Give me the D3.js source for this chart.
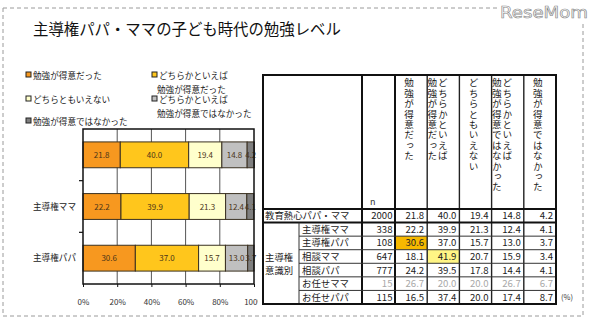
<!DOCTYPE html>
<html>
<head>
<meta charset="utf-8">
<script src="https://cdn.jsdelivr.net/npm/d3@7"></script>
<style>
  body { margin: 0; background: #fff; }
  svg { display: block; }
  text { font-family: "Noto Sans CJK JP", "Noto Sans", sans-serif; }
</style>
</head>
<body>
<script>
// ---- data ----
const title = "主導権パパ・ママの子ども時代の勉強レベル";
const seriesKeys = ["good", "ratherGood", "neutral", "ratherNot", "notGood"];
const seriesNames = [
  "勉強が得意だった",
  "どちらかといえば勉強が得意だった",
  "どちらともいえない",
  "どちらかといえば勉強が得意ではなかった",
  "勉強が得意ではなかった"
];
// header text for the table, one array entry per vertical line (right line first)
const headerLines = [
  ["勉強が得意だった"],
  ["どちらかといえば", "勉強が得意だった"],
  ["どちらともいえない"],
  ["どちらかといえば", "勉強が得意ではなかった"],
  ["勉強が得意ではなかった"]
];
const rowLabels = ["教育熱心パパ・ママ", "主導権ママ", "主導権パパ", "相談ママ", "相談パパ", "お任せママ", "お任せパパ"];
const groupLabel = ["主導権", "意識別"];
const rowN = [2000, 338, 108, 647, 777, 15, 115];
const good       = [21.8, 22.2, 30.6, 18.1, 24.2, 26.7, 16.5];
const ratherGood = [40.0, 39.9, 37.0, 41.9, 39.5, 20.0, 37.4];
const neutral    = [19.4, 21.3, 15.7, 20.7, 17.8, 20.0, 20.0];
const ratherNot  = [14.8, 12.4, 13.0, 15.9, 14.4, 26.7, 17.4];
const notGood    = [4.2, 4.1, 3.7, 3.4, 4.1, 6.7, 8.7];
const barLabels = ["", "主導権ママ", "主導権パパ"];   // first three table rows are charted
const tickValues = [0, 20, 40, 60, 80, 100];
const tickLabels = ["0%", "20%", "40%", "60%", "80%", "100%"];

const seriesValues = [good, ratherGood, neutral, ratherNot, notGood];
const colors = ["#f7981f", "#ffc61c", "#ffffcc", "#c0c0c0", "#7f7f7f"];

const W = 589, H = 330;
const svg = d3.select("body").append("svg").attr("width", W).attr("height", H);

// ---- frame ----
const dash = { stroke: "#9a9a9a", "stroke-width": 1, "stroke-dasharray": "4,3", fill: "none" };
function line(g, x1, y1, x2, y2, attrs) {
  const l = g.append("line").attr("x1", x1).attr("y1", y1).attr("x2", x2).attr("y2", y2);
  Object.entries(attrs).forEach(([k, v]) => l.attr(k, v));
  return l;
}
line(svg, 3, 8, 497, 8, dash);
line(svg, 3, 8, 3, 316, dash);
line(svg, 3, 316, 583, 316, dash);
line(svg, 583, 24, 583, 316, dash);

svg.append("text").attr("x", 500).attr("y", 18)
  .attr("font-size", 15).attr("textLength", 88).attr("lengthAdjust", "spacingAndGlyphs")
  .attr("fill", "#fff").attr("stroke", "#8a8a8a").attr("stroke-width", 0.6)
  .style("font-family", "'DejaVu Sans', sans-serif")
  .text("ReseMom");

svg.append("text").attr("x", 33).attr("y", 35)
  .attr("font-size", 15.4).attr("fill", "#111").text(title);

// ---- legend ----
const legendPos = [
  { x: 26, y: 76 }, { x: 152, y: 76 }, { x: 26, y: 100 }, { x: 152, y: 100 }, { x: 26, y: 122 }
];
const legendText = [
  ["勉強が得意だった"],
  ["どちらかといえば", "勉強が得意だった"],
  ["どちらともいえない"],
  ["どちらかといえば", "勉強が得意ではなかった"],
  ["勉強が得意ではなかった"]
];
const lg = svg.append("g");
seriesNames.forEach((name, i) => {
  const p = legendPos[i];
  lg.append("rect").attr("x", p.x).attr("y", p.y - 4).attr("width", 5).attr("height", 5)
    .attr("fill", colors[i]).attr("stroke", "#222").attr("stroke-width", 1);
  const t = lg.append("text").attr("x", p.x + 7).attr("y", p.y + 3)
    .attr("font-size", 8.6).attr("fill", "#222");
  legendText[i].forEach((s, k) => {
    t.append("tspan").attr("x", p.x + (k === 0 ? 7 : 5)).attr("dy", k === 0 ? 0 : 13.5).text(s);
  });
});

// ---- stacked bar chart ----
const plot = { left: 83, right: 254, top: 129, bottom: 284 };
const barRows = rowLabels.slice(0, 3);
const barData = barRows.map((r, i) => {
  const o = { row: r };
  seriesKeys.forEach((k, j) => o[k] = seriesValues[j][i]);
  return o;
});
const stacked = d3.stack().keys(seriesKeys)(barData);

const x = d3.scaleLinear().domain([0, 100]).range([plot.left, plot.right]);
const y = d3.scaleBand().domain(barRows).range([plot.top, plot.bottom])
  .paddingInner(0.5).paddingOuter(0.25);

const chart = svg.append("g");
chart.append("rect").attr("x", plot.left).attr("y", plot.top)
  .attr("width", plot.right - plot.left).attr("height", plot.bottom - plot.top).attr("fill", "#fff");

// vertical gridlines
chart.selectAll("line.grid").data(tickValues.slice(1, -1)).join("line")
  .attr("class", "grid")
  .attr("x1", d => x(d)).attr("x2", d => x(d))
  .attr("y1", plot.top).attr("y2", plot.bottom)
  .attr("stroke", "#555").attr("stroke-width", 1);

// bars
chart.selectAll("g.series").data(stacked).join("g")
  .attr("class", "series")
  .attr("fill", (d, i) => colors[i])
  .selectAll("rect").data(d => d).join("rect")
  .attr("x", d => x(d[0])).attr("width", d => x(d[1]) - x(d[0]))
  .attr("y", d => y(d.data.row)).attr("height", y.bandwidth())
  .attr("stroke", "#3a3020").attr("stroke-width", 1);

// segment value labels
stacked.forEach(s => {
  chart.append("g").selectAll("text").data(s).join("text")
    .attr("x", d => (x(d[0]) + x(d[1])) / 2)
    .attr("y", d => y(d.data.row) + y.bandwidth() / 2 + 3)
    .attr("text-anchor", "middle").attr("font-size", 8).attr("fill", "#4a3418")
    .text(d => d.data[s.key].toFixed(1));
});

// plot border
chart.append("rect").attr("x", plot.left).attr("y", plot.top)
  .attr("width", plot.right - plot.left).attr("height", plot.bottom - plot.top)
  .attr("fill", "none").attr("stroke", "#111").attr("stroke-width", 1.5);

// left ticks at category boundaries
const bounds = barRows.slice(1).map((r, i) => (y(barRows[i]) + y.bandwidth() + y(r)) / 2);
chart.selectAll("line.ytick").data(bounds).join("line")
  .attr("x1", plot.left - 4).attr("x2", plot.left)
  .attr("y1", d => d).attr("y2", d => d)
  .attr("stroke", "#111").attr("stroke-width", 1.2);

// category labels
chart.selectAll("text.ylab").data(barRows).join("text")
  .attr("x", 76).attr("y", d => y(d) + y.bandwidth() / 2 + 3)
  .attr("text-anchor", "end").attr("font-size", 8.6).attr("fill", "#222")
  .text((d, i) => barLabels[i]);

// x axis
svg.append("clipPath").attr("id", "axclip").append("rect")
  .attr("x", 0).attr("y", 0).attr("width", 258).attr("height", H);
const xAxis = d3.axisBottom(x).tickValues(tickValues)
  .tickFormat((d, i) => tickLabels[i]).tickSize(3).tickPadding(12);
const ax = svg.append("g").attr("transform", `translate(0,${plot.bottom})`)
  .attr("clip-path", "url(#axclip)").call(xAxis);
ax.select(".domain").remove();
ax.selectAll(".tick line").attr("stroke", "#111");
ax.selectAll(".tick text").attr("font-size", 8).attr("fill", "#333")
  .style("font-family", "'Noto Sans CJK JP', sans-serif");

// ---- table ----
const tb = { left: 263, labelRight: 362, nRight: 395, right: 556, top: 75, headBottom: 209, bottom: 304, groupRight: 299 };
const rowY = d3.scaleBand().domain(rowLabels).range([tb.headBottom, tb.bottom]);
const colX = d3.scaleBand().domain(seriesKeys).range([tb.nRight, tb.right]);
const table = svg.append("g");

// highlighted cells
const highlights = [
  { row: "主導権パパ", key: "good", fill: "#f6b800" },
  { row: "相談ママ", key: "ratherGood", fill: "#fff585" }
];
table.selectAll("rect.hl").data(highlights).join("rect")
  .attr("x", d => colX(d.key)).attr("y", d => rowY(d.row))
  .attr("width", colX.bandwidth()).attr("height", rowY.bandwidth())
  .attr("fill", d => d.fill);

// vertical header text (tategaki)
headerLines.forEach((lines, i) => {
  const cx = colX(seriesKeys[i]) + colX.bandwidth() / 2;
  const offs = lines.length === 1 ? [-2] : [-0.5, -11];
  lines.forEach((s, k) => {
    table.append("text")
      .attr("x", cx + offs[k]).attr("y", tb.top + 3)
      .attr("font-size", 9.6).attr("fill", "#222")
      .style("writing-mode", "vertical-rl").style("letter-spacing", "0.8px")
      .text(s);
  });
});
table.append("text").attr("x", 370).attr("y", 205).attr("font-size", 9).attr("fill", "#333").text("n");

// row labels
const lab = (t, xx, yy, col) => table.append("text").attr("x", xx).attr("y", yy)
  .attr("font-size", 9.4).attr("fill", col || "#222").text(t);
rowLabels.forEach((r, i) => {
  lab(r, i === 0 ? 265 : 302, rowY(r) + rowY.bandwidth() / 2 + 3.5);
});
const gMid = (rowY(rowLabels[1]) + tb.bottom) / 2;
lab(groupLabel[0], 265, gMid - 2.5);
lab(groupLabel[1], 265, gMid + 10.5);

// numbers
const numCol = i => (rowN[i] < 30 ? "#a8a8a8" : "#222");
rowLabels.forEach((r, i) => {
  const yy = rowY(r) + rowY.bandwidth() / 2 + 3.5;
  table.append("text").attr("x", tb.nRight - 2.5).attr("y", yy)
    .attr("text-anchor", "end").attr("font-size", 9.6).attr("fill", numCol(i)).text(rowN[i]);
  seriesKeys.forEach((k, j) => {
    table.append("text").attr("x", colX(k) + colX.bandwidth() - 3).attr("y", yy)
      .attr("text-anchor", "end").attr("font-size", 9.6).attr("fill", numCol(i))
      .text(seriesValues[j][i].toFixed(1));
  });
});

// grid lines
const thick = { stroke: "#111", "stroke-width": 2 };
const mid = { stroke: "#222", "stroke-width": 1.4 };
const thin = { stroke: "#333", "stroke-width": 1 };
line(table, tb.labelRight, tb.top, tb.labelRight, tb.bottom, thick);
line(table, tb.nRight, tb.top, tb.nRight, tb.bottom, thick);
seriesKeys.slice(1).forEach(k => line(table, colX(k), tb.top, colX(k), tb.bottom, mid));
line(table, tb.left, tb.headBottom, tb.right, tb.headBottom, thick);
line(table, tb.left, rowY(rowLabels[1]), tb.right, rowY(rowLabels[1]), thick);
rowLabels.slice(2).forEach(r => line(table, tb.groupRight, rowY(r), tb.right, rowY(r), thin));
line(table, tb.groupRight, rowY(rowLabels[1]), tb.groupRight, tb.bottom, thin);
table.append("rect").attr("x", tb.left).attr("y", tb.top)
  .attr("width", tb.right - tb.left).attr("height", tb.bottom - tb.top)
  .attr("fill", "none").attr("stroke", "#111").attr("stroke-width", 2);

svg.append("text").attr("x", 561).attr("y", 300).attr("font-size", 7.5).attr("fill", "#333").text("(%)");
</script>
</body>
</html>
